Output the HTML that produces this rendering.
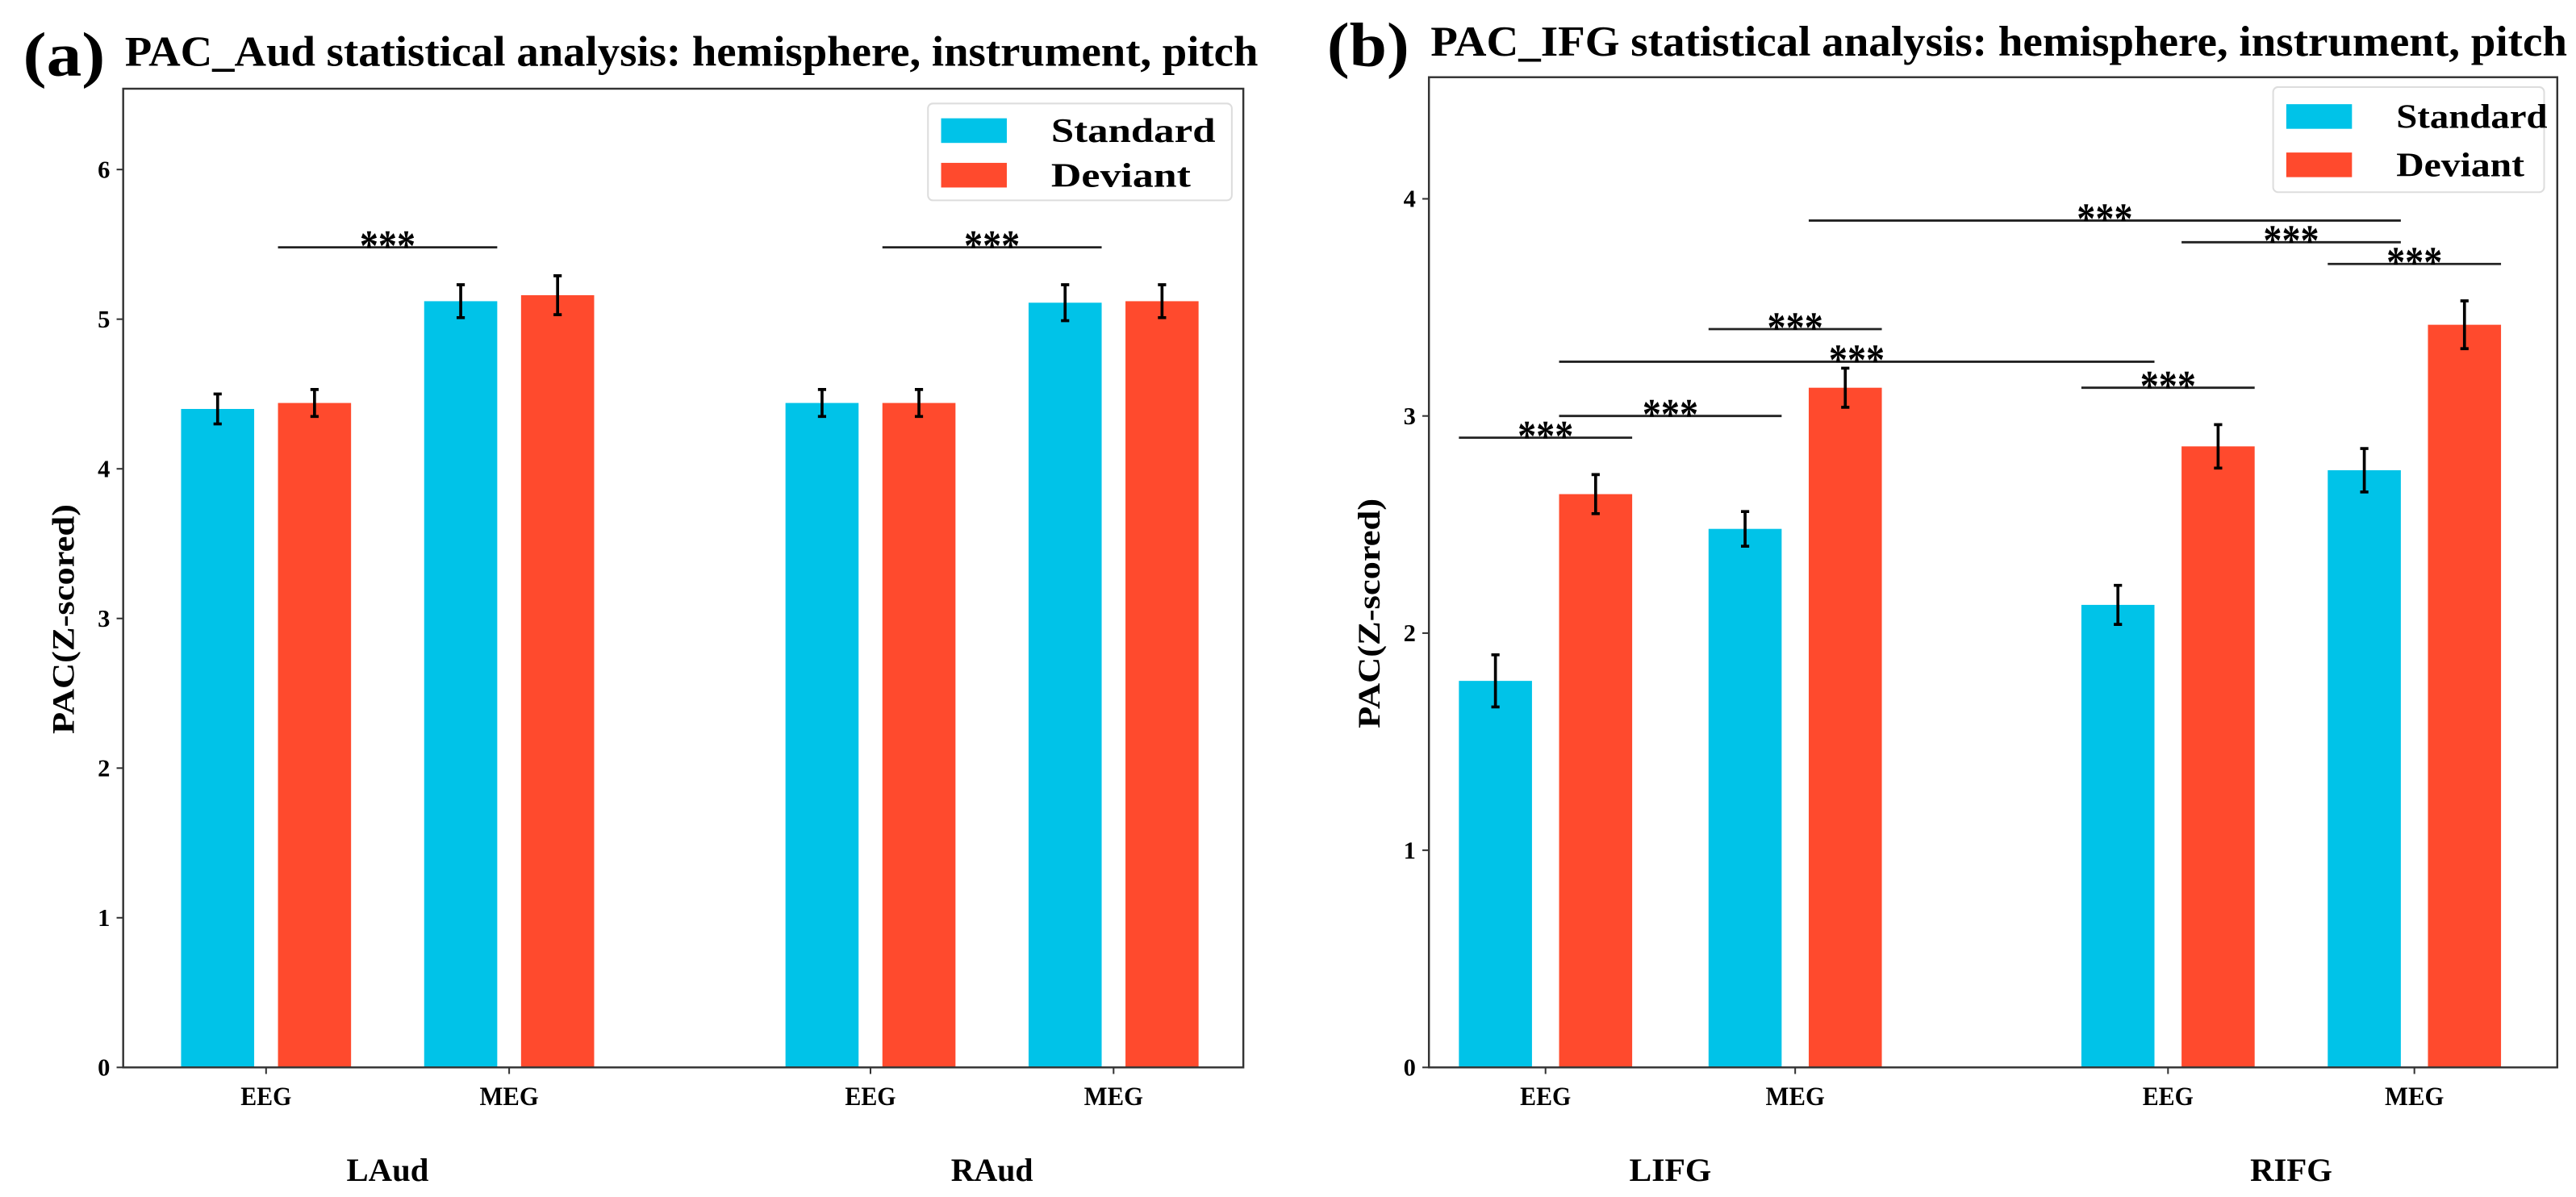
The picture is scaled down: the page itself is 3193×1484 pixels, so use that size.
<!DOCTYPE html>
<html><head><meta charset="utf-8"><style>
html,body{margin:0;padding:0;background:#fff}
svg{display:block}
text{font-family:"Liberation Serif",serif;font-weight:bold;fill:#000}
</style></head><body>
<svg id="fig" width="3193" height="1484" viewBox="0 0 1568.4 728.9" xmlns="http://www.w3.org/2000/svg"></svg>
<script>
// Panel A data
const catsA = ["EEG","MEG","EEG","MEG"];
const groupsA = ["LAud","RAud"];
const stdA = [4.40, 5.12, 4.44, 5.11];
const devA = [4.44, 5.16, 4.44, 5.12];
const stdErrA = [0.10, 0.11, 0.09, 0.12];
const devErrA = [0.09, 0.13, 0.09, 0.11];
const ticksA = [0,1,2,3,4,5,6];
// significance: [y, fromBarIndex, toBarIndex] bar index = cat*2 + (0 std / 1 dev)
const sigA = [[5.48,1,2],[5.48,5,6]];

// Panel B data
const catsB = ["EEG","MEG","EEG","MEG"];
const groupsB = ["LIFG","RIFG"];
const stdB = [1.78, 2.48, 2.13, 2.75];
const devB = [2.64, 3.13, 2.86, 3.42];
const stdErrB = [0.12, 0.08, 0.09, 0.10];
const devErrB = [0.09, 0.09, 0.10, 0.11];
const ticksB = [0,1,2,3,4];
const sigB = [[3.9,3,6],[3.8,5,6],[3.7,6,7],[3.4,2,3],[3.25,1,4],[3.0,1,2],[2.9,0,1],[3.13,4,5]];

const NS="http://www.w3.org/2000/svg";
const svg=document.getElementById('fig');
function mk(tag,attrs,parent,txt){const e=document.createElementNS(NS,tag);for(const k in attrs)e.setAttribute(k,attrs[k]);if(txt!==undefined)e.textContent=txt;(parent||svg).appendChild(e);return e;}

function panel(o){
  const g=mk('g',{});
  
  
  const y=v=>o.bottom-(v/o.ymax)*(o.bottom-o.top);
  const barEdges=[];
  for(let i=0;i<o.std.length;i++){
    const cx=o.tickX[i];
    const xs=cx-o.off-o.bw/2, xd=cx+o.off-o.bw/2;
    const r1=mk('rect',{x:xs,y:y(o.std[i]),width:o.bw,height:o.bottom-y(o.std[i]),fill:'#00c3e8'},g);
    
    
    const r2=mk('rect',{x:xd,y:y(o.dev[i]),width:o.bw,height:o.bottom-y(o.dev[i]),fill:'#ff4a2d'},g);
    
    
    barEdges.push([xs,xs+o.bw],[xd,xd+o.bw]);
    [[xs+o.bw/2,o.std[i],o.stdErr[i]],[xd+o.bw/2,o.dev[i],o.devErr[i]]].forEach(([x,v,e])=>{
      const eb=mk('path',{d:`M${x},${y(v-e)}V${y(v+e)}M${x-2.5},${y(v-e)}h5M${x-2.5},${y(v+e)}h5`,stroke:'#000','stroke-width':1.8,fill:'none'},g);
      
      
    });
  }
  o.sig.forEach(([v,a,b])=>{
    const x1=barEdges[a][0], x2=barEdges[b][1];
    const l=mk('line',{x1:x1,x2:x2,y1:y(v),y2:y(v),stroke:'#222','stroke-width':1.4},g);
    
    
    const t=mk('text',{x:(x1+x2)/2,y:y(v)+8,'text-anchor':'middle','font-size':27,'font-weight':'normal',textLength:34,lengthAdjust:'spacingAndGlyphs'},g,'***');
    
    
  });
  const fr=mk('rect',{x:o.left,y:o.top,width:o.right-o.left,height:o.bottom-o.top,fill:'none',stroke:'#333','stroke-width':1.2},g);
  
  
  o.ticks.forEach(v=>{
    mk('line',{x1:o.left-4,x2:o.left,y1:y(v),y2:y(v),stroke:'#333','stroke-width':1},g);
    const t=mk('text',{x:o.left-8,y:y(v)+5,'text-anchor':'end','font-size':15},g,String(v));
    
    
  });
  o.cats.forEach((c,i)=>{
    mk('line',{x1:o.tickX[i],x2:o.tickX[i],y1:o.bottom,y2:o.bottom+4,stroke:'#333','stroke-width':1},g);
    const t=mk('text',{x:o.tickX[i],y:o.bottom+23,'text-anchor':'middle','font-size':16,textLength:c==='MEG'?36:31,lengthAdjust:'spacingAndGlyphs'},g,c);
    
    
  });
  o.groups.forEach((gn,i)=>{
    const t=mk('text',{x:(o.tickX[2*i]+o.tickX[2*i+1])/2,y:o.bottom+69,'text-anchor':'middle','font-size':20,textLength:50,lengthAdjust:'spacingAndGlyphs'},g,gn);
    
    
  });
  const yl=mk('text',{x:0,y:0,transform:`translate(${o.left-30},${(o.top+o.bottom)/2+25}) rotate(-90)`,'text-anchor':'middle','font-size':19,textLength:140,lengthAdjust:'spacingAndGlyphs'},g,'PAC(Z-scored)');
  
  
  const lt=mk('text',{x:o.letterX,y:o.titleY+6,'font-size':38,textLength:50,lengthAdjust:'spacingAndGlyphs'},g,o.letter);
  
  
  const tt=mk('text',{x:o.left+1,y:o.titleY,'font-size':26,textLength:o.titleW,lengthAdjust:'spacingAndGlyphs'},g,o.title);
  
  
  const lg=mk('g',{},g);
  
  
  mk('rect',{x:o.leg[0],y:o.leg[1],width:o.leg[2],height:o.leg[3],rx:3,fill:'#fff',stroke:'#ddd','stroke-width':1},lg);
  [['Standard','#00c3e8',o.leg[4]],['Deviant','#ff4a2d',o.leg[5]]].forEach(([n,c,w],k)=>{
    const ey=o.leg[1]+o.leg[3]*(0.28+0.46*k);
    mk('rect',{x:o.leg[0]+8,y:ey-7.5,width:40,height:15,fill:c},lg);
    const t=mk('text',{x:o.leg[0]+75,y:ey+7,'font-size':21,textLength:w,lengthAdjust:'spacingAndGlyphs'},lg,n);
    
    
  });
}

panel({name:'panel-a',letter:'(a)',title:'PAC_Aud statistical analysis: hemisphere, instrument, pitch',
  cats:catsA,groups:groupsA,std:stdA,dev:devA,stdErr:stdErrA,devErr:devErrA,ticks:ticksA,sig:sigA,
  left:75,right:757,top:54,bottom:650,ymax:6.54,tickX:[162,310,530,678],bw:44.5,off:29.5,
  titleY:40,titleW:690,letterX:14,leg:[565,63,185,59,100,85]});
panel({name:'panel-b',letter:'(b)',title:'PAC_IFG statistical analysis: hemisphere, instrument, pitch',
  cats:catsB,groups:groupsB,std:stdB,dev:devB,stdErr:stdErrB,devErr:devErrB,ticks:ticksB,sig:sigB,
  left:870,right:1557,top:47,bottom:650,ymax:4.56,tickX:[941,1093,1320,1470],bw:44.5,off:30.5,
  titleY:34,titleW:692,letterX:808,leg:[1384,53,165,64,92,78]});
</script>
</body></html>
